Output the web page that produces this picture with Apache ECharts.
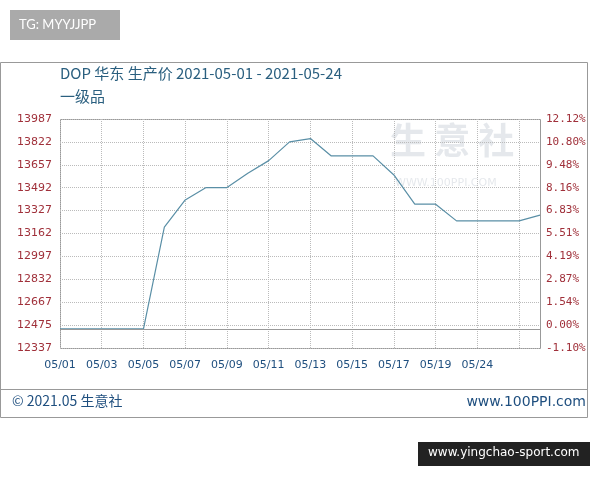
<!DOCTYPE html>
<html><head><meta charset="utf-8">
<script src="https://cdn.jsdelivr.net/npm/echarts@6/dist/echarts.min.js"></script>
<style>html,body{margin:0;padding:0;background:#fff}#c{width:600px;height:480px}</style>
</head><body><div id="c"></div>
<script>
const categories=['05/01','05/02','05/03','05/04','05/05','05/06','05/07','05/08','05/09','05/10','05/11','05/12','05/13','05/14','05/15','05/16','05/17','05/18','05/19','05/20','05/21','05/22','05/23','05/24'];
const xTickLabels={0:'05/01',2:'05/03',4:'05/05',6:'05/07',8:'05/09',10:'05/11',12:'05/13',14:'05/15',16:'05/17',18:'05/19',20:'05/24'};
const prices=[12475,12475,12475,12475,12475,13208,13404,13493,13493,13596,13687,13822,13846,13721,13721,13721,13584,13373,13373,13253,13253,13253,13253,13294];
const base=12475;
const leftLabels={12337:'12337',12502:'12475',12667:'12667',12832:'12832',12997:'12997',13162:'13162',13327:'13327',13492:'13492',13657:'13657',13822:'13822',13987:'13987'};
const rightLabels={12337:'-1.10%',12502:'0.00%',12667:'1.54%',12832:'2.87%',12997:'4.19%',13162:'5.51%',13327:'6.83%',13492:'8.16%',13657:'9.48%',13822:'10.80%',13987:'12.12%'};
const ch=echarts.init(document.getElementById('c'));
const mono='DejaVu Sans Mono';
ch.setOption({
 animation:false,
 grid:{left:60,right:60,top:119,bottom:132},
 xAxis:{type:'category',data:categories,boundaryGap:false,
  axisLine:{show:false},axisTick:{show:false},
  splitLine:{show:true,interval:(i)=>i%2===0,lineStyle:{color:'#bbb',type:'dotted'}},
  axisLabel:{interval:0,formatter:(v,i)=>xTickLabels[i]||'',color:'#1f4f7f',fontSize:11,fontFamily:'DejaVu Sans',margin:12}},
 yAxis:[{type:'value',min:12337,max:13987,interval:165,
  axisLine:{show:false},axisTick:{show:false},
  splitLine:{lineStyle:{color:'#bbb',type:'dotted'}},
  axisLabel:{formatter:v=>leftLabels[v]||'',color:(v)=>v===12502?'#111':(v===12337?'#3a8a3a':'#a0303a'),fontSize:11,fontFamily:'DejaVu Sans',margin:8,align:'right'}},
  {type:'value',min:12337,max:13987,interval:165,position:'right',
  axisLine:{show:false},axisTick:{show:false},splitLine:{show:false},
  axisLabel:{formatter:v=>rightLabels[v]||'',color:(v)=>v===12502?'#111':(v===12337?'#3a8a3a':'#a0303a'),fontSize:11,fontFamily:mono,margin:6}}],
 series:[{type:'line',data:prices,symbol:'none',lineStyle:{color:'#5a8fa6',width:1.2},
  markLine:{silent:true,symbol:'none',label:{show:false},lineStyle:{color:'#999',type:'solid',width:1},data:[{yAxis:base}]}}],
 graphic:[
  {type:'rect',shape:{x:10,y:10,width:110,height:30},style:{fill:'#aaa'}},
  {type:'text',left:19,top:18,style:{text:'TG: MYYJJPP',fill:'#fff',font:'13px Lato'}},
  {type:'rect',shape:{x:0.5,y:62.5,width:587,height:355},style:{fill:'none',stroke:'#999',lineWidth:1}},
  {type:'rect',shape:{x:60.5,y:119.5,width:480,height:229},style:{fill:'none',stroke:'#999',lineWidth:1}},
  {type:'line',shape:{x1:0,y1:389.5,x2:588,y2:389.5},style:{stroke:'#999',lineWidth:1}},
  {type:'text',left:60,top:66,style:{text:'DOP 华东 生产价 2021-05-01 - 2021-05-24',fill:'#2a5f7f',font:'15px "Noto Sans CJK SC"'}},
  {type:'text',left:60,top:89,style:{text:'一级品',fill:'#2a5f7f',font:'15px "Noto Sans CJK SC"'}},
  {type:'text',left:390,top:122,z:-1,style:{text:'生 意 社',fill:'rgba(180,190,200,0.35)',font:'bold 36px "Noto Sans CJK SC"'}},
  {type:'text',left:395,top:178,z:-1,style:{text:'WWW.100PPI.COM',fill:'rgba(180,190,200,0.35)',font:'11px "DejaVu Sans"'}},
  {type:'text',left:12,top:394,style:{text:'© 2021.05 生意社',fill:'#1f4f7f',font:'14px "Noto Sans CJK SC"'}},
  {type:'text',right:14,top:395,style:{text:'www.100PPI.com',fill:'#1f4f7f',font:'14px "DejaVu Sans"'}},
  {type:'rect',shape:{x:418,y:442,width:172,height:24},style:{fill:'#222'}},
  {type:'text',left:428,top:447,style:{text:'www.yingchao-sport.com',fill:'#fff',font:'12px "DejaVu Sans"'}}
 ]
});
</script></body></html>
